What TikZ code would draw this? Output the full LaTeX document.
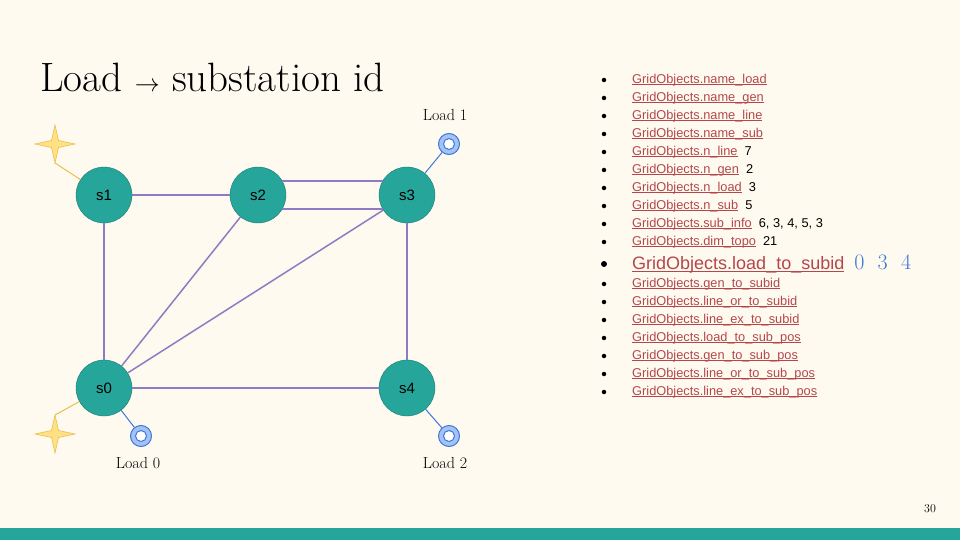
\documentclass[tikz,border=0pt]{standalone}
\usepackage{fontspec}
\newfontfamily\sans{Liberation Sans}
\definecolor{bg}{HTML}{FEFAF0}
\definecolor{teal}{HTML}{26A69A}
\definecolor{tealdk}{HTML}{1B7A70}
\definecolor{edge}{HTML}{8E7CC3}
\definecolor{lnk}{HTML}{B5474B}
\definecolor{blu}{HTML}{3C78D8}
\definecolor{star}{HTML}{FFE082}
\definecolor{stard}{HTML}{E8C050}
\definecolor{ldf}{HTML}{A4C2F4}
\definecolor{ldd}{HTML}{3C78D8}
\tikzset{
 sub/.style={circle,fill=teal,draw=tealdk,minimum size=56pt,inner sep=0pt,font=\sans\fontsize{15}{15}\selectfont},
 ed/.style={draw=edge,line width=1.5pt},
 ld/.style={circle,fill=ldf,draw=ldd,line width=1pt,minimum size=21pt,inner sep=0pt},
 ldin/.style={circle,fill=white,draw=ldd,line width=1pt,minimum size=11pt,inner sep=0pt},
 stp/.style={fill=star,draw=stard,line width=0.6pt},
 lbl/.style={font=\fontsize{16}{16}\selectfont},
 it/.style={anchor=west,font=\sans\fontsize{12.8}{12.8}\selectfont,text=lnk,inner sep=0pt},
 bul/.style={circle,fill=black,minimum size=4.5pt,inner sep=0pt},
}
\newcommand{\lk}[1]{\setbox0\hbox{#1}\rlap{\rule[-1.8pt]{\wd0}{0.7pt}}\box0}
\begin{document}
\begin{tikzpicture}[x=1pt,y=-1pt]
\fill[bg] (0,0) rectangle (960,540);
\useasboundingbox (0,0) rectangle (960,540);
\fill[teal] (0,528) rectangle (960,540);
\node[anchor=base west,font=\fontsize{41}{41}\selectfont,inner sep=0pt] (title) at (40,92) {Load {\fontsize{48}{48}\selectfont$\rightarrow$} substation id};
\node[font=\fontsize{12}{12}\selectfont] (pg) at (930,509) {30};
% stars
\coordinate (st1) at (55,144);
\coordinate (st0) at (55,434);
\foreach \c in {st1,st0}{
 \draw[stp] (\c) +(0,-19) -- +(3.5,-3.5) -- +(20,0) -- +(3.5,3.5) -- +(0,19) -- +(-3.5,3.5) -- +(-20,0) -- +(-3.5,-3.5) -- cycle;
}
\coordinate (st1b) at (55,163);
\coordinate (st0t) at (55,415);
\node[ld] (l1) at (449,144) {};\node[ldin] at (l1) {};
\node[ld] (l0) at (141,436) {};\node[ldin] at (l0) {};
\node[ld] (l2) at (449,436) {};\node[ldin] at (l2) {};
\node[sub] (s1) at (104,195) {s1};
\node[sub] (s2) at (258,195) {s2};
\node[sub] (s3) at (407,195) {s3};
\node[sub] (s0) at (104,388) {s0};
\node[sub] (s4) at (407,388) {s4};
\draw[draw=stard,line width=1pt] (st1b) -- (s1);
\draw[draw=stard,line width=1pt] (st0t) -- (s0);
\draw[draw=ldd,line width=1pt] (l1) -- (s3);
\draw[draw=ldd,line width=1pt] (l0) -- (s0);
\draw[draw=ldd,line width=1pt] (l2) -- (s4);
\draw[ed] (s1) -- (s2);
\draw[ed] (s1) -- (s0);
\draw[ed] (s0) -- (s2);
\draw[ed] (s0) -- (s3);
\draw[ed] (s0) -- (s4);
\draw[ed] (s3) -- (s4);
\draw[ed] (s2.30) -- (s3.150);
\draw[ed] (s2.-30) -- (s3.-150);
\node[lbl] (tl1) at (445,115) {Load 1};
\node[lbl] (tl0) at (138,463) {Load 0};
\node[lbl] (tl2) at (445,463) {Load 2};
% list
\foreach \y/\t/\v in {80/name\_load/,98/name\_gen/,116/name\_line/,134/name\_sub/,152/n\_line/7,170/n\_gen/2,188/n\_load/3,206/n\_sub/5,224/sub\_info/{6, 3, 4, 5, 3},242/dim\_topo/21,284/gen\_to\_subid/,302/line\_or\_to\_subid/,320/line\_ex\_to\_subid/,338/load\_to\_sub\_pos/,356/gen\_to\_sub\_pos/,374/line\_or\_to\_sub\_pos/,392/line\_ex\_to\_sub\_pos/}{
 \node[bul] at (604,\y) {};
 \node[it] (i\y) at (632,\y) {\lk{GridObjects.\t}\ \ \textcolor{black}{\v}};
}
\node[bul,minimum size=6pt] (bb) at (604,264) {};
\node[it,font=\sans\fontsize{18}{18}\selectfont] (big) at (632,264) {\lk{GridObjects.load\_to\_subid}\ \ \textcolor{blu}{\fontsize{22}{22}\selectfont\rmfamily 0\ \ 3\ \ 4}};
\end{tikzpicture}
\end{document}
